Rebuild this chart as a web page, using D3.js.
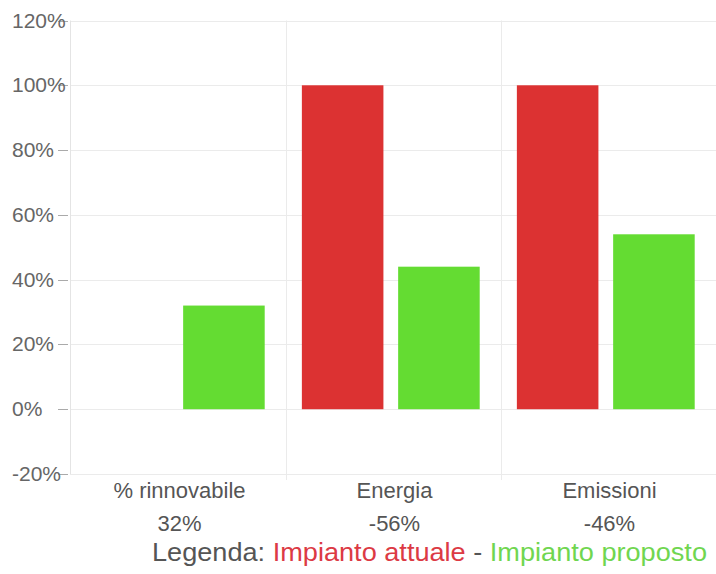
<!DOCTYPE html>
<html>
<head>
<meta charset="utf-8">
<script src="https://cdn.jsdelivr.net/npm/d3@7"></script>
<style>
  html, body { margin: 0; padding: 0; background: #fff; }
  svg { display: block; font-family: "Liberation Sans", Arial, sans-serif; }
</style>
</head>
<body>
<svg id="chart" width="716" height="574"></svg>
<script>
const categories = ["% rinnovabile", "Energia", "Emissioni"];
const seriesNames = ["Impianto attuale", "Impianto proposto"];
const attuale = [0, 100, 100];
const proposto = [32, 44, 54];
const diffLabels = ["32%", "-56%", "-46%"];
const yTicks = [-20, 0, 20, 40, 60, 80, 100, 120];
const colors = ["#dc3232", "#64dc32"];
const legendColors = ["#dc3a44", "#70d650"];

const svg = d3.select("#chart");
const W = 716, H = 574;

const x0 = d3.scaleBand().domain(categories).range([72, 717]).padding(0);
const x1 = d3.scaleBand().domain(seriesNames).range([0, x0.bandwidth()])
  .paddingInner(0.153).paddingOuter(0.193).align(0.4);
const y = d3.scaleLinear().domain([-20, 120]).range([474, 20.5]);

const gridColor = "#ebebeb";

// horizontal gridlines
svg.append("g").selectAll("line").data(yTicks).join("line")
  .attr("x1", 70).attr("x2", W)
  .attr("y1", d => Math.round(y(d)) + 0.5).attr("y2", d => Math.round(y(d)) + 0.5)
  .attr("stroke", gridColor).attr("stroke-width", 1);

// vertical gridlines at category boundaries
svg.append("g").selectAll("line").data(categories.slice(1)).join("line")
  .attr("x1", d => Math.round(x0(d)) - 0.5).attr("x2", d => Math.round(x0(d)) - 0.5)
  .attr("y1", y(120)).attr("y2", y(-20) + 6)
  .attr("stroke", gridColor).attr("stroke-width", 1);

// left axis line
svg.append("line")
  .attr("x1", 70.5).attr("x2", 70.5).attr("y1", y(120)).attr("y2", y(-20))
  .attr("stroke", "#e4e4e4");

// y tick marks
svg.append("g").selectAll("line").data(yTicks).join("line")
  .attr("x1", 58).attr("x2", 68)
  .attr("y1", d => Math.round(y(d)) + 0.5).attr("y2", d => Math.round(y(d)) + 0.5)
  .attr("stroke", "#aaa");

// y labels (left aligned)
svg.append("g").selectAll("text").data(yTicks).join("text")
  .attr("x", 12).attr("y", d => y(d) + 7)
  .attr("fill", "#666").attr("font-size", 21)
  .text(d => d + "%");

// bars
const rows = categories.map((c, i) => ({ cat: c, vals: [attuale[i], proposto[i]] }));
const g = svg.append("g").selectAll("g").data(rows).join("g")
  .attr("transform", d => `translate(${x0(d.cat)},0)`);
g.selectAll("rect").data(d => d.vals.map((v, j) => ({ v, s: seriesNames[j], j })).filter(e => e.v !== 0))
  .join("rect")
  .attr("x", d => x1(d.s))
  .attr("width", x1.bandwidth())
  .attr("y", d => y(Math.max(0, d.v)))
  .attr("height", d => Math.abs(y(d.v) - y(0)))
  .attr("fill", d => colors[d.j]);

// category labels
svg.append("g").selectAll("text").data(categories).join("text")
  .attr("x", d => x0(d) + x0.bandwidth() / 2).attr("y", 498)
  .attr("text-anchor", "middle").attr("fill", "#555").attr("font-size", 22)
  .text(d => d);

// diff labels
svg.append("g").selectAll("text").data(categories).join("text")
  .attr("x", d => x0(d) + x0.bandwidth() / 2).attr("y", 531)
  .attr("text-anchor", "middle").attr("fill", "#555").attr("font-size", 22)
  .text((d, i) => diffLabels[i]);

// legend
const leg = svg.append("text").attr("x", 152).attr("y", 561).attr("font-size", 26)
  .attr("textLength", 555).attr("lengthAdjust", "spacingAndGlyphs");
leg.append("tspan").attr("fill", "#555").text("Legenda: ");
leg.append("tspan").attr("fill", legendColors[0]).text(seriesNames[0]);
leg.append("tspan").attr("fill", "#555").text(" - ");
leg.append("tspan").attr("fill", legendColors[1]).text(seriesNames[1]);
</script>
</body>
</html>
